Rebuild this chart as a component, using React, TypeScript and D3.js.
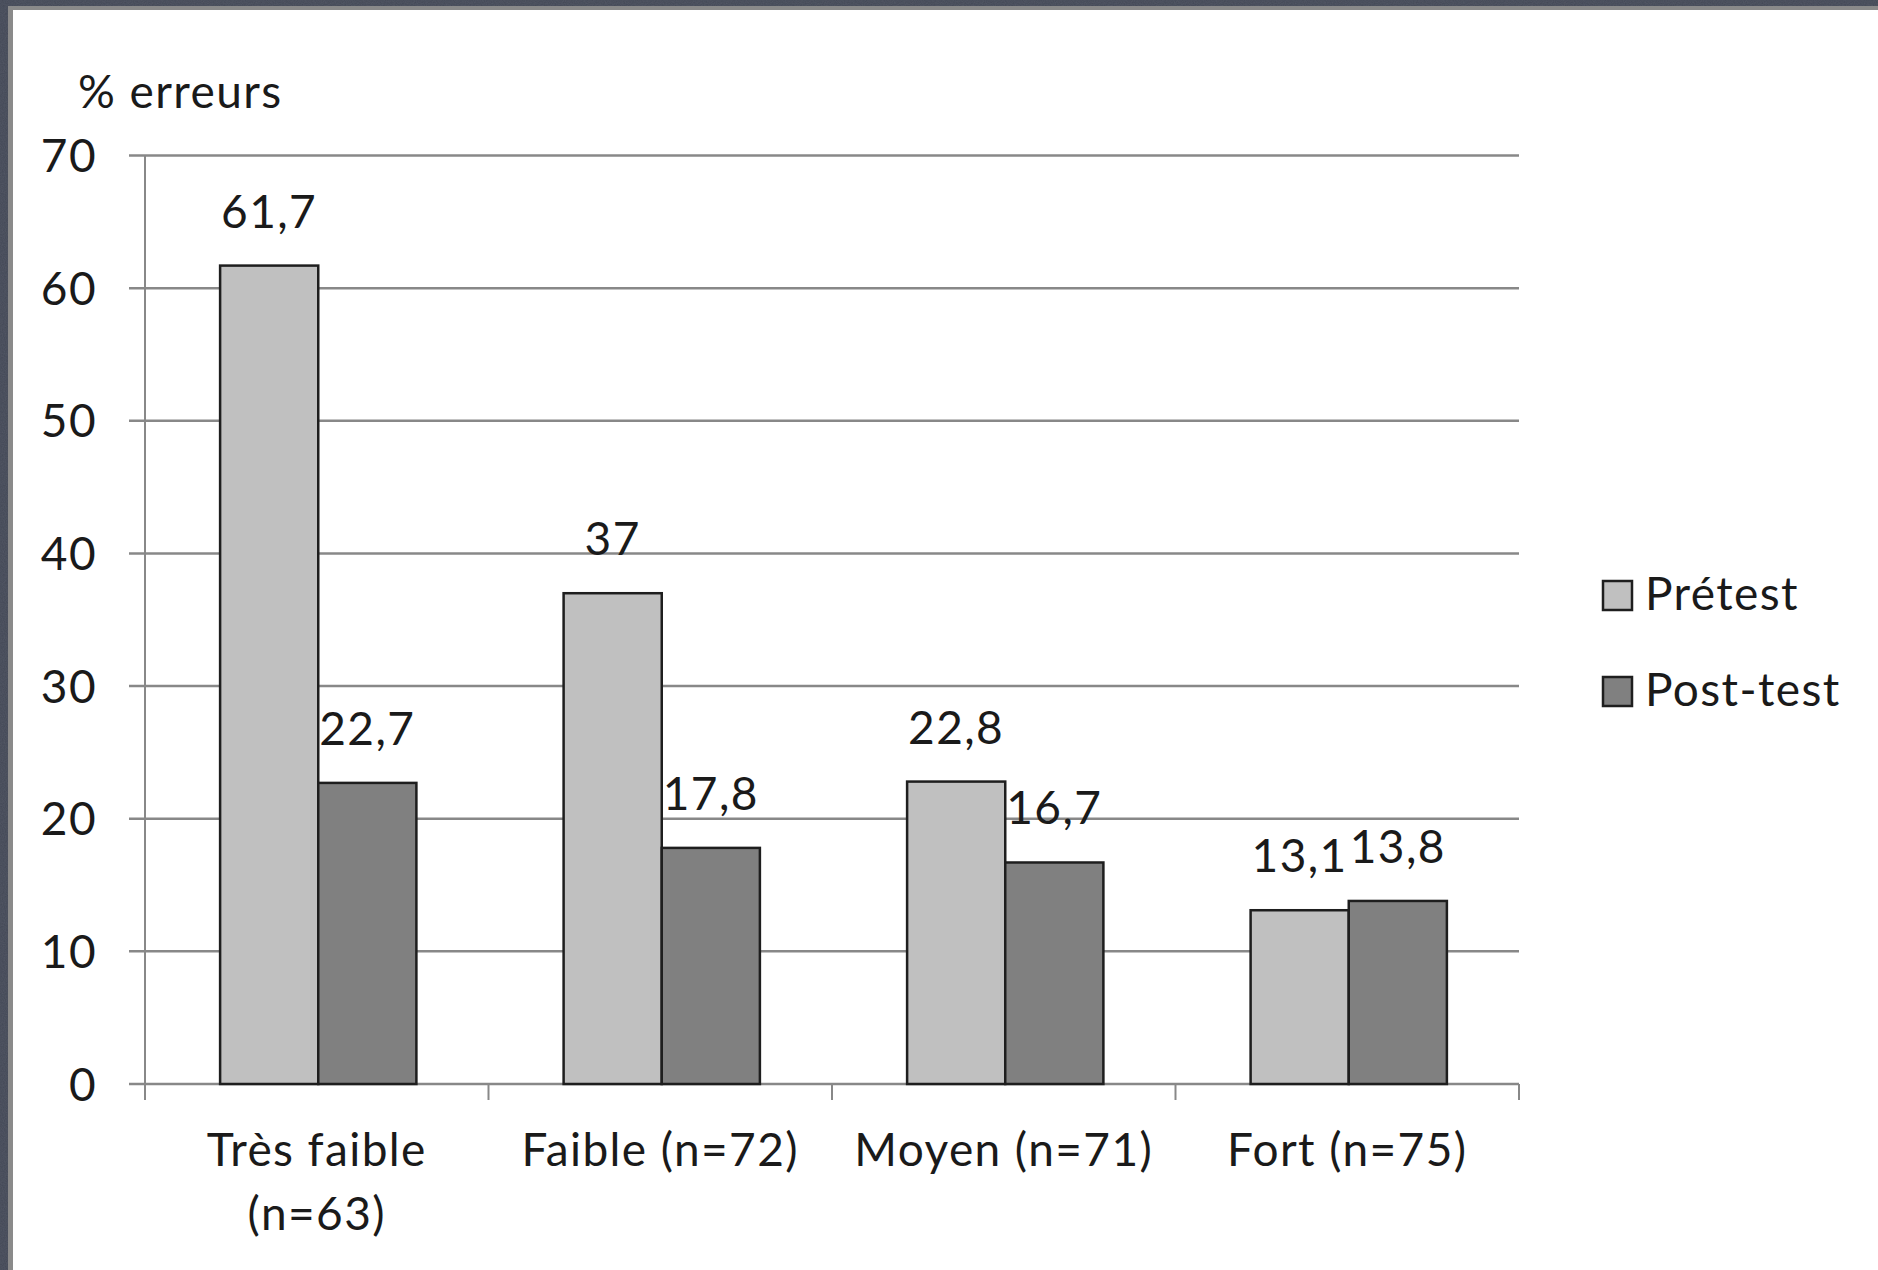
import React from "react";
import * as d3 from "d3";

const categories = ["Très faible (n=63)", "Faible (n=72)", "Moyen (n=71)", "Fort (n=75)"];
const categoryLines = [["Très faible", "(n=63)"], ["Faible (n=72)"], ["Moyen (n=71)"], ["Fort (n=75)"]];
const seriesNames = ["Prétest", "Post-test"];
const pretest = [61.7, 37, 22.8, 13.1];
const posttest = [22.7, 17.8, 16.7, 13.8];
const pretestLabels = ["61,7", "37", "22,8", "13,1"];
const posttestLabels = ["22,7", "17,8", "16,7", "13,8"];
const yTicks = [0, 10, 20, 30, 40, 50, 60, 70];
const yTitle = "% erreurs";

const W = 1878;
const H = 1270;
const FONT = "Lato, 'Open Sans', sans-serif";
const FS = 46;
const LS = 1.4;
const colors = ["#c0c0c0", "#808080"];

export default function App() {
  const x0 = 145;
  const x1 = 1519;
  const y = d3.scaleLinear().domain([0, 70]).range([1084, 155.5]);
  const band = d3.scaleBand<string>().domain(categories).range([x0, x1]).paddingInner(0).paddingOuter(0);
  const bw = band.bandwidth() / 3.5;
  const inner = d3.scaleBand<string>().domain(seriesNames).range([0, bw * 2]);
  const series = [pretest, posttest];
  const labels = [pretestLabels, posttestLabels];

  return (
    <svg width={W} height={H} style={{ position: "absolute", left: 0, top: 0 }} xmlns="http://www.w3.org/2000/svg">
      <defs>
        <filter id="noise" x="0" y="0" width="100%" height="100%">
          <feTurbulence type="fractalNoise" baseFrequency="0.9" numOctaves="2" seed="3" />
          <feColorMatrix type="matrix" values="0 0 0 0 0.27  0 0 0 0 0.29  0 0 0 0 0.34  0 0 0 0.35 0" />
          <feComposite in2="SourceGraphic" operator="in" />
        </filter>
      </defs>
      <rect x={0} y={0} width={W} height={H} fill="#434856" />
      <rect x={0} y={0} width={W} height={H} fill="#3a3e4a" filter="url(#noise)" opacity={0.6} />
      <rect x={8} y={6} width={W} height={H} fill="#8a8a8a" />
      <rect x={13} y={10} width={W} height={H} fill="#ffffff" />

      {/* gridlines */}
      {yTicks.map((t) => (
        <line key={"g" + t} x1={129} x2={x1} y1={y(t)} y2={y(t)} stroke="#888888" strokeWidth={2.5} />
      ))}
      {/* y axis */}
      <line x1={x0} x2={x0} y1={y(70)} y2={y(0) + 16} stroke="#888888" strokeWidth={2} />
      {/* category ticks */}
      {[...categories.map((c) => band(c) as number), x1].map((xv, i) => (
        <line key={"ct" + i} x1={xv} x2={xv} y1={y(0)} y2={y(0) + 16} stroke="#888888" strokeWidth={2} />
      ))}
      {/* y tick labels */}
      {yTicks.map((t) => (
        <text key={"yl" + t} x={97} y={y(t)} dy="0.36em" textAnchor="end" fontFamily={FONT} fontSize={FS} letterSpacing={LS} fill="#1a1a1a">
          {t}
        </text>
      ))}
      <text x={78} y={108} fontFamily={FONT} fontSize={FS} letterSpacing={LS} fill="#1a1a1a">{yTitle}</text>

      {/* bars */}
      {categories.map((c, ci) => (
        <g key={"cat" + ci} transform={`translate(${(band(c) as number) + bw * 0.75 + 1.5},0)`}>
          {seriesNames.map((s, si) => {
            const v = series[si][ci];
            const bx = inner(s) as number;
            return (
              <g key={s}>
                <rect x={bx} y={y(v)} width={bw} height={y(0) - y(v)} fill={colors[si]} stroke="#1e1e1e" strokeWidth={2.5} />
                <text x={bx + bw / 2} y={y(v) - 38} textAnchor="middle" fontFamily={FONT} fontSize={FS} letterSpacing={LS} fill="#1a1a1a">
                  {labels[si][ci]}
                </text>
              </g>
            );
          })}
        </g>
      ))}

      {/* x labels */}
      {categories.map((c, ci) => (
        <text key={"xl" + ci} x={(band(c) as number) + band.bandwidth() / 2} y={1166} textAnchor="middle" fontFamily={FONT} fontSize={FS} letterSpacing={LS} fill="#1a1a1a">
          {categoryLines[ci].map((ln, li) => (
            <tspan key={li} x={(band(c) as number) + band.bandwidth() / 2} dy={li === 0 ? 0 : 64}>{ln}</tspan>
          ))}
        </text>
      ))}

      {/* legend */}
      {seriesNames.map((s, si) => (
        <g key={"lg" + s} transform={`translate(1603,${581 + si * 96})`}>
          <rect x={0} y={0} width={29} height={29} fill={colors[si]} stroke="#1e1e1e" strokeWidth={2.5} />
          <text x={42} y={29} fontFamily={FONT} fontSize={FS} letterSpacing={LS} fill="#1a1a1a">{s}</text>
        </g>
      ))}
    </svg>
  );
}
